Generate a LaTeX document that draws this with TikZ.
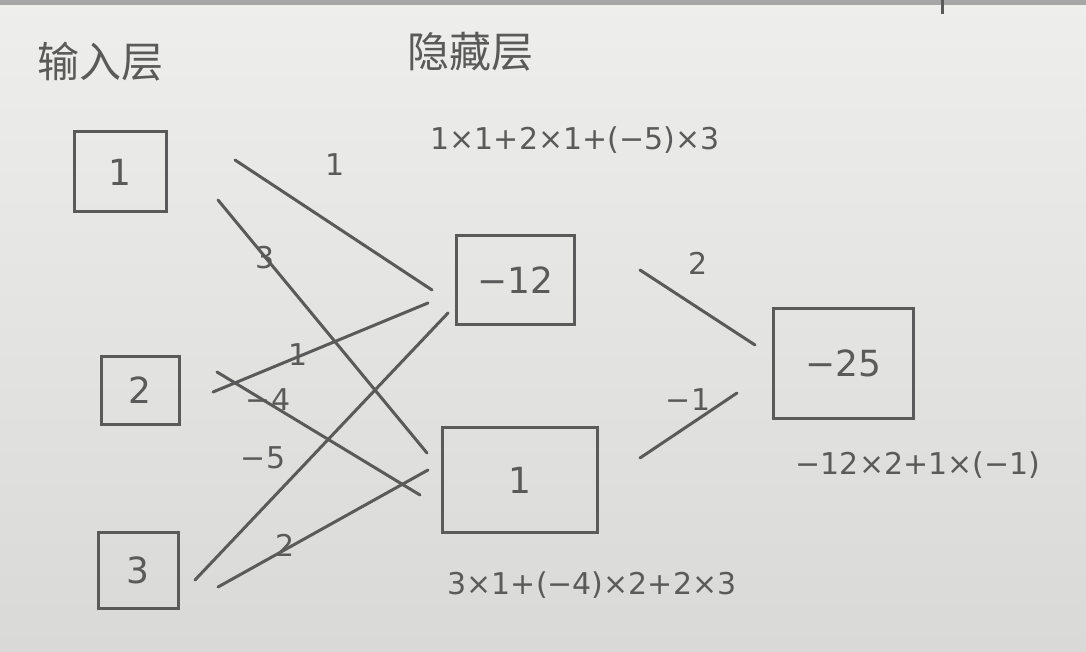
\documentclass[tikz,border=0pt]{standalone}
\usepackage{fontspec}
\newfontfamily\cjk{Noto Sans CJK SC}
\setmainfont{DejaVu Sans}
\definecolor{ink}{HTML}{5A5A5A}
\definecolor{paperTop}{HTML}{EEEEEC}
\definecolor{paperBot}{HTML}{D9D9D7}
\begin{document}
\begin{tikzpicture}[x=1pt,y=-1pt,
  box/.style={draw=ink,line width=3pt,minimum width=#1,inner sep=0pt,text=ink,font=\fontsize{36}{38}\selectfont},
  wire/.style={draw=ink,line width=3pt,line cap=round},
  wlab/.style={text=ink,font=\fontsize{30}{32}\selectfont,inner sep=0pt},
  flab/.style={text=ink,font=\fontsize{30}{32}\selectfont,inner sep=0pt},
  title/.style={text=ink,font=\cjk\fontsize{42}{44}\selectfont,inner sep=0pt}]
\shade[top color=paperTop,bottom color=paperBot] (0,0) rectangle (1086,652);
\useasboundingbox (0,0) rectangle (1086,652);
\fill[gray!70] (0,0) rectangle (1086,5);
\draw[ink,line width=3pt] (942,0) -- (942,14);
% titles
\node[title] (tin) at (100,62) {输入层};
\node[title] (thid) at (470,52) {隐藏层};
% input boxes
\node[box=92pt,minimum height=80pt] (i1) at (120,172) {1};
\node[box=78pt,minimum height=68pt] (i2) at (140,390) {2};
\node[box=80pt,minimum height=76pt] (i3) at (138,570) {3};
% hidden boxes
\node[box=118pt,minimum height=88pt] (h1) at (515,280) {−12};
\node[box=155pt,minimum height=105pt] (h2) at (520,480) {1};
% output box
\node[box=140pt,minimum height=110pt] (o) at (843,363) {−25};
% connector end points
\coordinate (a1) at (235,160); \coordinate (b1) at (432,290);
\coordinate (a2) at (218,200); \coordinate (b2) at (427,453);
\coordinate (a3) at (213,392); \coordinate (b3) at (428,303);
\coordinate (a4) at (217,372); \coordinate (b4) at (420,495);
\coordinate (a5) at (195,580); \coordinate (b5) at (448,313);
\coordinate (a6) at (218,587); \coordinate (b6) at (428,470);
\coordinate (a7) at (640,270); \coordinate (b7) at (755,345);
\coordinate (a8) at (640,458); \coordinate (b8) at (737,393);
\draw[wire] (a1) -- (b1);
\draw[wire] (a2) -- (b2);
\draw[wire] (a3) -- (b3);
\draw[wire] (a4) -- (b4);
\draw[wire] (a5) -- (b5);
\draw[wire] (a6) -- (b6);
\draw[wire] (a7) -- (b7);
\draw[wire] (a8) -- (b8);
% weight labels
\node[wlab] (w1) at (335,165) {1};
\node[wlab] (w2) at (265,258) {3};
\node[wlab] (w3) at (298,355) {1};
\node[wlab] (w4) at (268,400) {−4};
\node[wlab] (w5) at (263,458) {−5};
\node[wlab] (w6) at (285,545) {2};
\node[wlab] (w7) at (698,263) {2};
\node[wlab] (w8) at (688,400) {−1};
% formulas
\node[flab] (f1) at (575,140) {1×1+2×1+(−5)×3};
\node[flab] (f2) at (592,585) {3×1+(−4)×2+2×3};
\node[flab] (f3) at (918,465) {−12×2+1×(−1)};
\end{tikzpicture}
\end{document}
